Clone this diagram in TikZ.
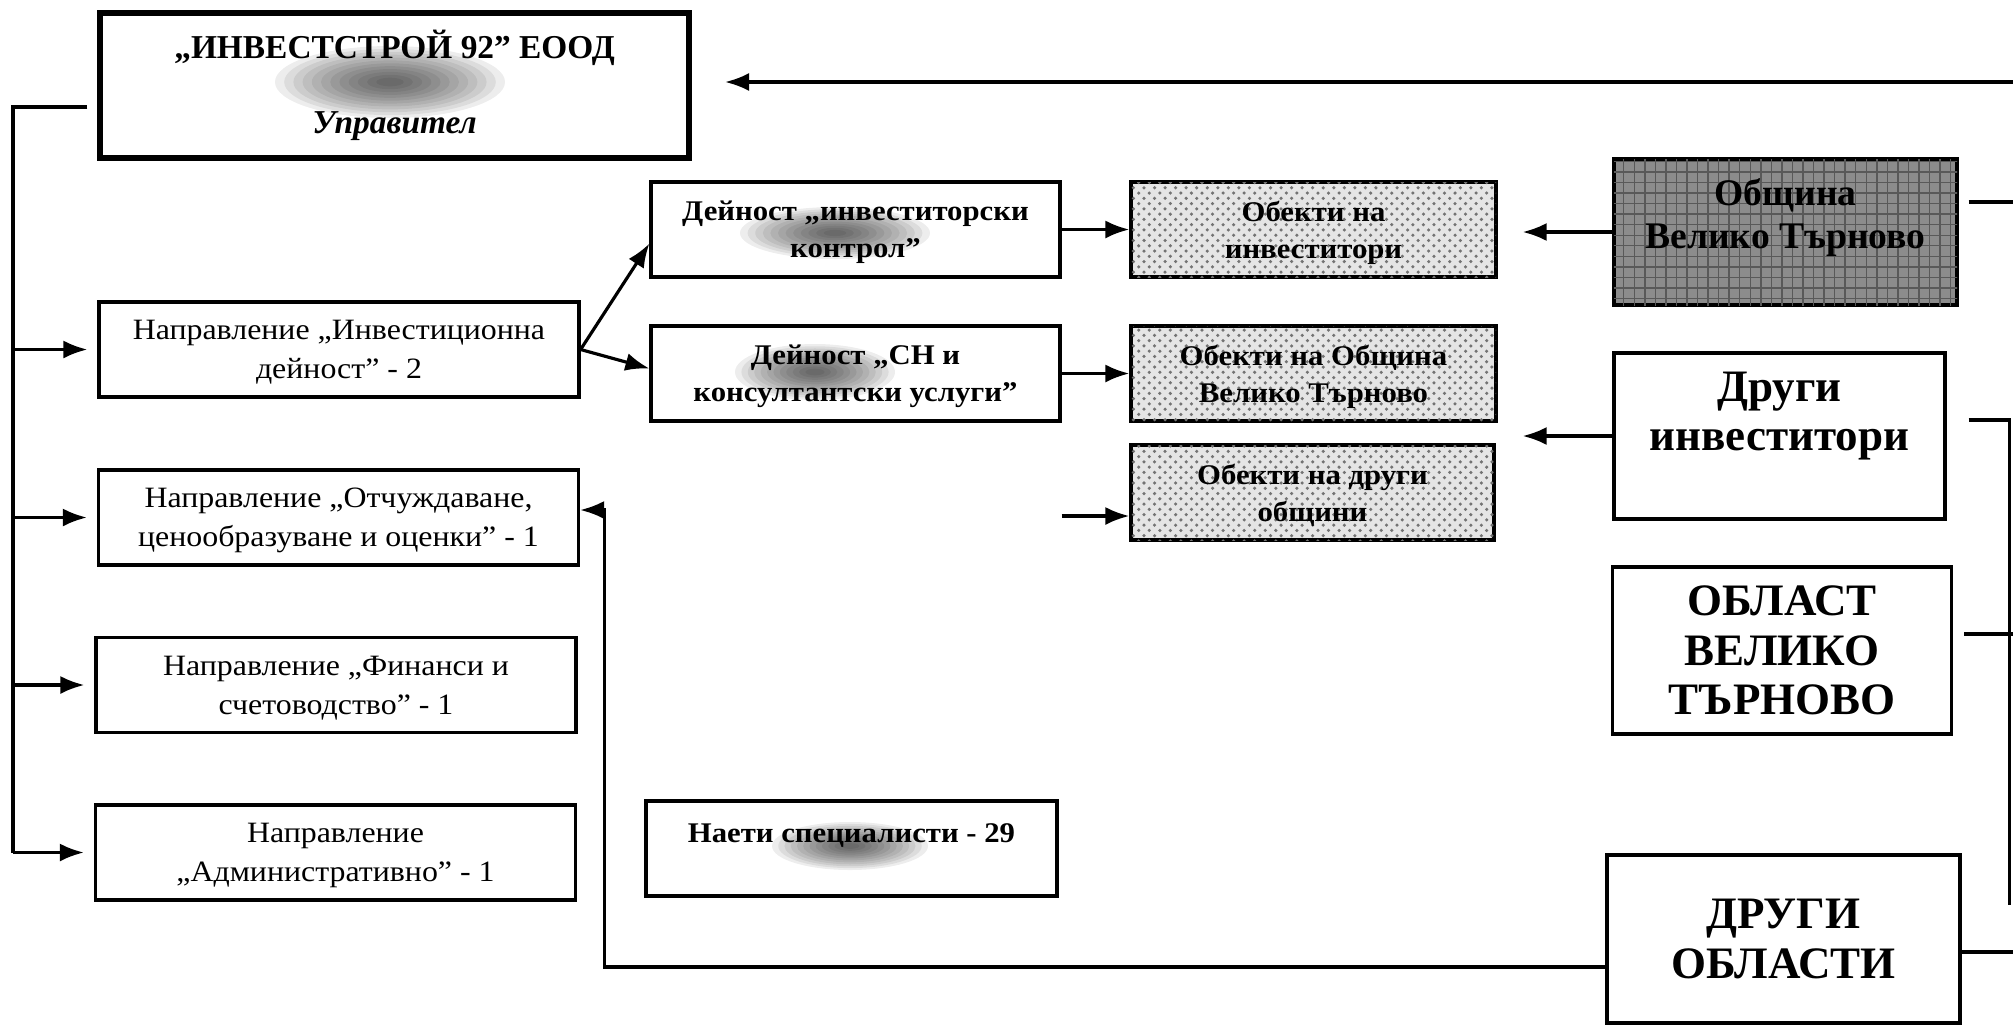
\documentclass[tikz,border=0pt]{standalone}
\usepackage{fontspec}
\setmainfont{Liberation Serif}
\newfontfamily\wideserif{Liberation Serif}[FakeStretch=1.08]
\usetikzlibrary{patterns,calc,arrows.meta}

% smudge over hidden words: centre x, centre y, x radius, y radius
\newcommand{\smudge}[4]{%
  \foreach \k in {1,...,12}{%
    \fill[black,opacity=.07] (#1,#2) ellipse ({#3*(1.08-\k*.08)} and {#4*(1.08-\k*.08)});}}

\tikzset{
  box/.style={draw, line width=.9pt, inner sep=0pt, align=center},
  lowtext/.style={text depth=-3pt},
  ceobox/.style={box, line width=1.5pt, minimum width=58.9mm, minimum height=14.5mm,
    font=\bfseries\fontsize{9.5}{10.7}\selectfont},
  dirbox/.style={box, lowtext, minimum width=48mm, minimum height=9.5mm,
    font=\wideserif\fontsize{8.4}{11.1}\selectfont},
  actbox/.style={box, lowtext, minimum width=40.9mm, minimum height=9.5mm,
    font=\wideserif\bfseries\fontsize{8.1}{10.5}\selectfont},
  objbox/.style={actbox, minimum width=36.5mm, fill=black!10,
    postaction={pattern=crosshatch dots, pattern color=black!55}},
  munbox/.style={box, minimum width=34.3mm, minimum height=14.6mm, fill=black!45,
    postaction={pattern=grid, pattern color=black!65},
    font=\bfseries\fontsize{10.7}{12.2}\selectfont},
  regbox/.style={box, font=\bfseries\fontsize{12.8}{14}\selectfont},
}

\begin{document}
\begin{tikzpicture}[x=0.1mm, y=-0.1mm, line width=.9pt, >={Latex[length=2.4mm,width=1.8mm]}]
  \useasboundingbox (0,0) rectangle (2013,1026);

  % company
  \node[ceobox] (ceo) at (394.5,85.5) {„ИНВЕСТСТРОЙ 92” ЕООД\\[10.6pt]\textit{Управител}};
  \smudge{390}{82}{115}{36}

  % directions
  \node[dirbox] (dir1) at (339,349.5) {Направление „Инвестиционна\\дейност” - 2};
  \node[dirbox] (dir2) at (338.5,517.5) {Направление „Отчуждаване,\\ценообразуване и оценки” - 1};
  \node[dirbox] (dir3) at (336,685) {Направление „Финанси и\\счетоводство” - 1};
  \node[dirbox] (dir4) at (335.5,852.5) {Направление\\„Административно” - 1};

  % activities
  \node[actbox] (act1) at (855.5,229.5) {Дейност „инвеститорски\\контрол”};
  \node[actbox] (act2) at (855.5,373.5) {Дейност „СН и\\консултантски услуги”};
  \node[actbox, minimum width=41.1mm] (staff) at (851.5,848.5) {Наети специалисти - 29\\[-1.5pt]\mbox{}};
  \smudge{835}{233}{95}{26}
  \smudge{815}{372}{80}{28}
  \smudge{850}{846}{78}{24}

  % sites
  \node[objbox] (obj1) at (1313.5,229.5) {Обекти на\\инвеститори};
  \node[objbox] (obj2) at (1313.5,373.5) {Обекти на Община\\Велико Търново};
  \node[objbox, minimum width=36.3mm] (obj3) at (1312.5,492.5) {Обекти на други\\общини};

  % clients
  \node[munbox] (mun) at (1785.5,232) {Община\\Велико Търново\\[-1.7pt]\mbox{}};
  \node[regbox, minimum width=33.1mm, minimum height=16.6mm] (inv) at (1779.5,436) {Други\\инвеститори\\\mbox{}};
  \node[regbox, minimum width=33.9mm, minimum height=16.7mm] (obl) at (1782,650.5) {ОБЛАСТ\\ВЕЛИКО\\ТЪРНОВО};
  \node[regbox, minimum width=35.3mm, minimum height=16.8mm] (oth) at (1783.5,939) {ДРУГИ\\ОБЛАСТИ};

  % top arrow
  \coordinate (topin) at (2013,82);
  \coordinate (topend) at (725,82);
  \draw[->] (topin) -- (topend);

  % left tree
  \coordinate (trunk) at (13,107);
  \draw (ceo.west |- trunk) ++(-10,0) -- (trunk) -- (trunk |- dir4.west);
  \foreach \n in {dir1,dir2,dir3,dir4}
    \draw[->] (trunk |- \n.west) -- ($(\n.west)+(-10,0)$);

  \draw[->] (dir1.east) -- ($(act1.west)+(0,14)$);
  \draw[->] (dir1.east) -- ($(act2.west)+(0,-5)$);
  \draw[->] (act1.east) -- (obj1.west);
  \draw[->] (act2.east) -- (obj2.west);
  \coordinate (loose) at (act2.east |- 0,516);
  \draw[->] (loose) -- (loose -| obj3.west);

  \draw[->] (mun.west) -- ($(mun.west -| obj1.east)+(25,0)$);
  \draw[->] (inv.west) -- ($(inv.west -| obj2.east)+(25,0)$);
  \draw[->] ($(oth.west)+(0,28)$) -| ($(dir2.east)+(24,-7.5)$) -- ($(dir2.east)+(0,-7.5)$);

  % right edge
  \draw (mun.east) ++(10,-30) -- ++(46,0);
  \draw (inv.east) ++(22,-16) -- ++(41,0) -- ++(0,485);
  \draw (obl.east) ++(11,-16.5) -- ++(50,0);
  \draw (oth.east) ++(0,13) -- ++(53,0);
\end{tikzpicture}
\end{document}
